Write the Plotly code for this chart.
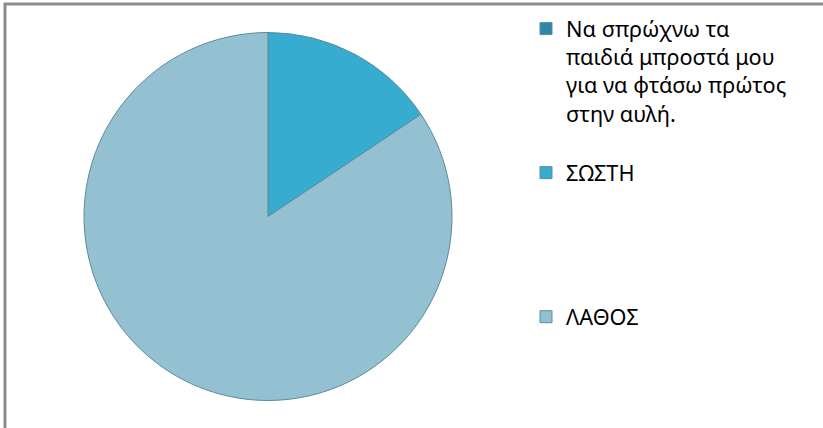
import plotly.graph_objects as go

labels = [
    "Να σπρώχνω τα<br>παιδιά μπροστά μου<br>για να φτάσω πρώτος<br>στην αυλή.",
    "ΣΩΣΤΗ",
    "ΛΑΘΟΣ",
]
values = [0, 5, 27]
colors = ["#2e86a8", "#35acd0", "#93c1d1"]

W, H = 823, 428
cx, cy, r = 268, 216.5, 184

# pad legend labels so entries are spread like the original
pad_after = [1, 4, 0]
legend_labels = [lab + "<br>&nbsp;" * p for lab, p in zip(labels, pad_after)]

fig = go.Figure(
    go.Pie(
        labels=legend_labels,
        values=values,
        sort=False,
        direction="clockwise",
        rotation=0,
        textinfo="none",
        marker=dict(colors=colors, line=dict(color="#5f8a9a", width=1)),
        domain=dict(x=[(cx - r) / W, (cx + r) / W],
                    y=[(H - cy - r) / H, (H - cy + r) / H]),
        hoverinfo="label+value+percent",
    )
)

fig.update_layout(
    width=W,
    height=H,
    margin=dict(l=0, r=0, t=0, b=0),
    paper_bgcolor="white",
    font=dict(family="Noto Sans", size=21.7, color="black"),
    legend=dict(x=(566 - 40) / W, xanchor="left", y=1 - 8 / H, yanchor="top",
                valign="top", bgcolor="rgba(0,0,0,0)"),
    shapes=[dict(type="rect", xref="paper", yref="paper",
                 x0=5 / W, x1=1.1, y0=-0.1, y1=1 - 4 / H,
                 line=dict(color="#8c8c8c", width=3))],
)

fig.write_html("out.html", config={"displayModeBar": False},
               post_script="document.body.style.margin='0';")
